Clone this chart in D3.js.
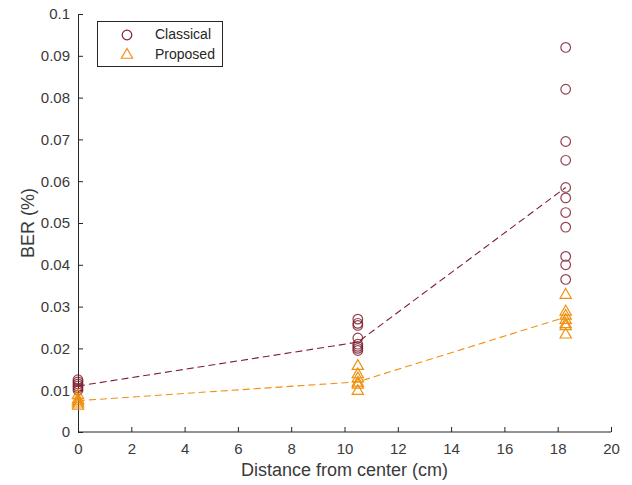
<!DOCTYPE html>
<html lang="en">
<head>
<meta charset="utf-8">
<style>
  html, body { margin:0; padding:0; background:#fff; }
  svg { font-family: "Liberation Sans", Arial, sans-serif; }
  .axis path, .axis line { stroke: #262626; stroke-width: 1px; }
  .axis text { fill: #3a3a3a; font-size: 15px; }
</style>
</head>
<body>
<svg width="632" height="485"></svg>
<script src="https://cdnjs.cloudflare.com/ajax/libs/d3/7.8.5/d3.min.js"></script>
<script>
// distances (cm)
var distances = [0, 10.5, 18.3];

// raw BER measurements per distance
var classicalPts = [
  [0.0125, 0.012, 0.0115, 0.011, 0.0105, 0.010],
  [0.027, 0.026, 0.0255, 0.0225, 0.021, 0.0205, 0.020, 0.0195],
  [0.092, 0.082, 0.0695, 0.065, 0.0585, 0.056, 0.0525, 0.049, 0.042, 0.040, 0.0365]
];
var proposedPts = [
  [0.009, 0.008, 0.0075, 0.007, 0.0065],
  [0.016, 0.014, 0.013, 0.012, 0.0115, 0.010],
  [0.033, 0.029, 0.028, 0.027, 0.026, 0.0255, 0.0235]
];

// mean lines
var classicalMean = [0.011, 0.0215, 0.0585];
var proposedMean = [0.0075, 0.012, 0.0275];

var xTicks = [0, 2, 4, 6, 8, 10, 12, 14, 16, 18, 20];
var yTicks = [0, 0.01, 0.02, 0.03, 0.04, 0.05, 0.06, 0.07, 0.08, 0.09, 0.1];

var cRed = "#7e1f30", cOrange = "#f0900f";

var svg = d3.select("svg");
var margin = {left: 78, right: 21, top: 14, bottom: 53};
var width = 632 - margin.left - margin.right,
    height = 485 - margin.top - margin.bottom;

var g = svg.append("g").attr("transform", "translate(" + margin.left + "," + margin.top + ")");

var x = d3.scaleLinear().domain([0, 20]).range([0, width]);
var y = d3.scaleLinear().domain([0, 0.1]).range([height, 0]);

g.append("g")
  .attr("class", "axis")
  .attr("transform", "translate(0," + height + ")")
  .call(d3.axisBottom(x).tickValues(xTicks).tickSize(-5).tickPadding(11).tickFormat(d3.format("d")))
  .call(function (s) { s.select(".domain").attr("d", "M0.5,0H" + width); });

g.append("g")
  .attr("class", "axis")
  .call(d3.axisLeft(y).tickValues(yTicks).tickSize(-5).tickPadding(8).tickFormat(function (d) { return d === 0 ? "0" : d3.format("")(+d.toFixed(2)); }))
  .call(function (s) { s.select(".domain").attr("d", "M0.5," + height + "V0"); });

g.append("text")
  .attr("x", width / 2).attr("y", height + 44)
  .attr("text-anchor", "middle").attr("fill", "#3a3a3a").attr("font-size", "18px")
  .text("Distance from center (cm)");

g.append("text")
  .attr("transform", "translate(-44," + (height / 2) + ") rotate(-90)")
  .attr("text-anchor", "middle").attr("fill", "#3a3a3a").attr("font-size", "18px")
  .text("BER (%)");

var line = d3.line()
  .x(function (d, i) { return x(distances[i]); })
  .y(function (d) { return y(d); });

g.append("path").datum(classicalMean)
  .attr("d", line).attr("fill", "none").attr("stroke", cRed)
  .attr("stroke-width", 1.1).attr("stroke-dasharray", "7,4");
g.append("path").datum(proposedMean)
  .attr("d", line).attr("fill", "none").attr("stroke", cOrange)
  .attr("stroke-width", 1.1).attr("stroke-dasharray", "7,4");

function flatten(arr) {
  var out = [];
  arr.forEach(function (vals, i) {
    vals.forEach(function (v) { out.push({d: distances[i], v: v}); });
  });
  return out;
}

var tri = d3.symbol().type(d3.symbolTriangle).size(55);

g.selectAll(".cpt").data(flatten(classicalPts)).enter()
  .append("circle")
  .attr("cx", function (d) { return x(d.d); })
  .attr("cy", function (d) { return y(d.v); })
  .attr("r", 4.8)
  .attr("fill", "none").attr("stroke", cRed).attr("stroke-width", 1.2).attr("stroke-opacity", 0.85);

g.selectAll(".ppt").data(flatten(proposedPts)).enter()
  .append("path")
  .attr("d", tri)
  .attr("transform", function (d) { return "translate(" + x(d.d) + "," + (y(d.v) + 1) + ")"; })
  .attr("fill", "none").attr("stroke", cOrange).attr("stroke-width", 1.2);

// legend
var lg = svg.append("g").attr("transform", "translate(97,21)");
lg.append("rect").attr("x", 0.5).attr("y", 0.5).attr("width", 125).attr("height", 45)
  .attr("fill", "#fff").attr("stroke", "#262626").attr("stroke-width", 1);
lg.append("circle").attr("cx", 30).attr("cy", 14).attr("r", 4.8)
  .attr("fill", "none").attr("stroke", cRed).attr("stroke-width", 1.2);
lg.append("path").attr("d", tri).attr("transform", "translate(30,34)")
  .attr("fill", "none").attr("stroke", cOrange).attr("stroke-width", 1.2);
lg.append("text").attr("x", 58).attr("y", 18).attr("font-size", "14px").attr("fill", "#262626").text("Classical");
lg.append("text").attr("x", 58).attr("y", 38).attr("font-size", "14px").attr("fill", "#262626").text("Proposed");
</script>
</body>
</html>
